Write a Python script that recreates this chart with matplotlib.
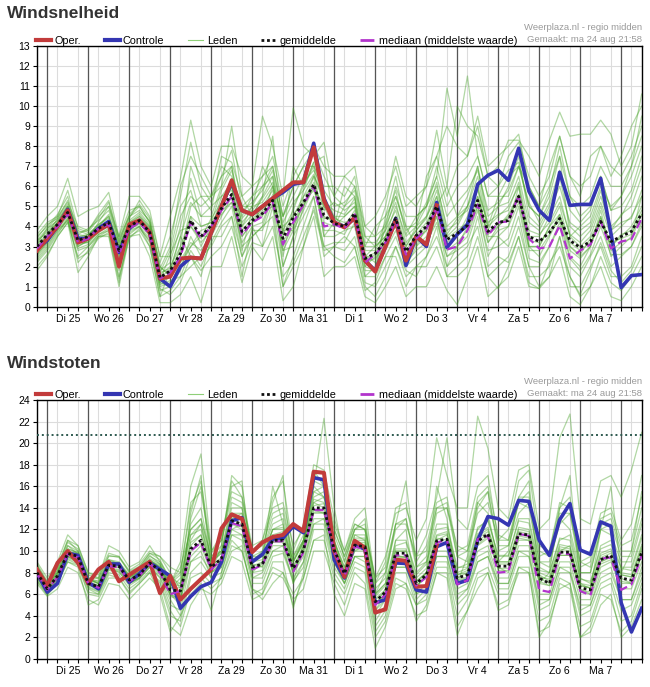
import matplotlib
matplotlib.use("Agg")
import matplotlib.pyplot as plt
import matplotlib.dates as mdates
from matplotlib.lines import Line2D
import numpy as np
import pandas as pd

# 6-hourly steps, Ma 24 aug 18:00 .. Di 8 sep 12:00
times = pd.date_range("2020-08-24 18:00", periods=60, freq="6h")
noons = pd.date_range("2020-08-25 12:00", periods=14, freq="D")
midnights = pd.date_range("2020-08-25 00:00", periods=15, freq="D")
day_labels = ["Di 25", "Wo 26", "Do 27", "Vr 28", "Za 29", "Zo 30", "Ma 31",
              "Di 1", "Wo 2", "Do 3", "Vr 4", "Za 5", "Zo 6", "Ma 7"]

# ---- Windsnelheid ----
speed_oper = [2.8,
              3.4, 4.0, 4.8, 3.2, 3.4, 3.8, 4.1, 2.0, 4.1, 4.3, 3.7, 1.4,
              1.5, 2.4, 2.45, 2.4, 3.7, 5.0, 6.3, 4.8, 4.6, 5.0, 5.4, 5.8,
              6.2, 6.2, 7.95, 5.3, 4.2, 3.95, 4.45, 2.3, 1.75, 3.0, 4.3, 2.3,
              3.5, 3.1, 5.05]
speed_control = [2.9,
                 3.3, 4.0, 4.85, 3.4, 3.4, 3.9, 4.25, 2.7, 3.9, 4.3, 3.7, 1.4,
                 1.0, 2.0, 2.45, 2.4, 3.7, 5.0, 6.2, 4.8, 4.6, 5.0, 5.4, 5.7,
                 6.1, 6.2, 8.15, 5.4, 4.2, 4.0, 4.4, 2.3, 1.8, 3.0, 4.4, 2.05,
                 3.5, 3.0, 5.2, 2.95, 3.6, 4.1, 6.1, 6.55, 6.8, 6.3, 7.9, 5.75,
                 4.8, 4.3, 6.7, 5.05, 5.1, 5.1, 6.4, 3.65, 0.95, 1.55, 1.6]
speed_mean = [3.0,
              3.6, 4.1, 4.7, 3.3, 3.5, 3.9, 4.2, 2.8, 4.0, 4.3, 3.7, 1.45,
              1.8, 2.65, 4.3, 3.5, 4.05, 4.9, 5.6, 3.75, 4.3, 4.65, 5.3, 3.4,
              4.45, 5.2, 6.1, 4.55, 4.15, 4.0, 4.65, 2.4, 2.65, 3.3, 4.4, 2.75,
              3.55, 4.0, 5.0, 3.35, 3.65, 4.05, 5.3, 3.75, 4.2, 4.3, 5.5, 3.5,
              3.25, 3.7, 4.4, 3.3, 2.95, 3.25, 4.25, 3.25, 3.5, 3.75, 4.65]
speed_median = [2.9,
                3.5, 4.0, 4.6, 3.2, 3.4, 3.9, 4.1, 2.6, 3.9, 4.2, 3.6, 1.4,
                1.7, 2.5, 4.2, 3.4, 4.0, 4.8, 5.5, 3.6, 4.2, 4.5, 5.2, 3.1,
                4.2, 5.1, 6.0, 4.0, 4.1, 3.9, 4.6, 2.2, 2.6, 3.2, 4.3, 2.6,
                3.4, 3.9, 4.9, 2.85, 3.0, 3.8, 5.1, 3.55, 4.2, 4.25, 5.55, 3.4,
                2.9, 3.0, 4.05, 2.4, 2.8, 3.1, 4.25, 2.9, 3.25, 3.35, 4.4]
speed_members = [
    [3.5, 4.0, 4.6, 5.5, 3.6, 3.9, 4.3, 4.8, 3.2, 4.5, 5.0, 4.2, 2.2, 3.5, 5.5, 8.2, 6.0,
     5.2, 6.5, 7.8, 5.0, 5.5, 6.0, 7.0, 4.5, 6.0, 7.0, 7.8, 6.5, 5.5, 5.0, 6.0, 3.5,
     3.0, 4.2, 5.8, 3.6, 4.5, 5.0, 6.5, 10.9, 8.5, 11.5, 7.5, 5.5, 6.0, 6.8, 7.2, 5.0,
     4.5, 5.8, 8.0, 5.5, 4.5, 5.0, 6.5, 4.8, 5.5, 7.0, 9.5],
    [2.0, 2.6, 3.5, 4.2, 2.5, 3.0, 3.5, 3.8, 1.5, 3.5, 3.8, 3.0, 0.5, 0.8, 1.5, 2.0, 2.5,
     3.0, 4.0, 4.5, 2.5, 3.5, 4.0, 4.5, 1.0, 2.0, 3.0, 5.0, 3.0, 2.5, 2.2, 3.0, 1.0,
     0.5, 1.5, 3.0, 1.5, 2.0, 2.5, 3.5, 2.0, 2.5, 3.0, 4.0, 1.5, 2.0, 2.5, 4.0, 2.0,
     1.0, 1.5, 3.5, 1.5, 0.5, 1.0, 2.5, 1.2, 0.8, 1.5, 2.5],
    [2.8, 3.4, 4.0, 4.8, 3.0, 3.3, 3.8, 4.0, 2.5, 3.8, 4.2, 3.5, 1.2, 1.5, 2.5, 4.5, 3.0,
     4.0, 5.0, 6.0, 3.5, 4.2, 5.0, 5.8, 3.0, 4.0, 5.0, 6.0, 4.2, 4.0, 4.5, 5.0, 2.0,
     2.5, 3.2, 4.0, 2.5, 3.5, 4.0, 5.5, 3.0, 3.5, 4.5, 6.0, 3.2, 4.0, 4.5, 5.5, 3.0,
     3.0, 4.0, 5.0, 3.0, 2.5, 3.0, 4.5, 3.0, 3.5, 4.0, 5.0],
    [3.2, 3.8, 4.3, 5.0, 3.8, 3.6, 4.0, 4.5, 3.0, 4.2, 4.6, 4.0, 1.8, 2.2, 4.0, 6.4, 4.5,
     4.5, 6.0, 7.0, 4.0, 5.0, 6.0, 6.5, 2.0, 3.5, 5.5, 6.5, 5.5, 4.5, 4.0, 4.5, 1.5,
     2.0, 3.5, 5.0, 3.5, 4.0, 5.0, 6.0, 4.0, 4.5, 5.5, 7.0, 4.5, 5.0, 6.0, 7.5, 4.5,
     4.0, 5.0, 6.5, 4.0, 3.5, 4.0, 5.5, 4.0, 4.5, 5.5, 7.0],
    [1.8, 2.5, 3.5, 4.2, 1.7, 2.5, 3.5, 3.5, 1.0, 3.5, 3.6, 2.5, 0.2, 0.2, 0.6, 1.5, 0.2,
     2.0, 2.0, 3.5, 1.2, 3.0, 2.3, 3.5, 0.3, 1.0, 3.0, 4.5, 1.5, 2.0, 2.0, 2.5, 0.5,
     0.2, 1.0, 2.0, 0.5, 1.0, 1.0, 2.0, 0.8, 0.1, 1.5, 3.0, 0.5, 1.0, 1.5, 3.0, 1.0,
     0.9, 1.5, 2.5, 0.5, 0.1, 1.0, 2.0, 0.5, 0.3, 1.0, 2.0],
    [3.0, 3.6, 4.4, 5.3, 3.5, 3.4, 4.2, 5.0, 3.2, 4.4, 5.3, 4.5, 2.5, 4.5, 6.4, 9.3, 7.0,
     6.0, 8.0, 8.0, 6.5, 6.0, 9.5, 8.0, 5.5, 9.9, 8.0, 7.5, 8.2, 5.5, 6.5, 6.0, 4.0,
     3.5, 5.0, 7.5, 5.5, 5.0, 6.0, 8.8, 6.0, 10.0, 9.0, 8.5, 6.5, 7.0, 8.3, 8.3, 7.5,
     6.5, 8.3, 9.7, 8.5, 8.6, 8.6, 9.3, 8.6, 7.0, 8.0, 10.6],
    [2.6, 3.2, 3.9, 4.6, 3.2, 3.2, 3.7, 4.0, 2.2, 4.0, 4.3, 3.8, 1.0, 1.2, 2.0, 3.0, 3.5,
     3.5, 4.5, 5.5, 2.8, 4.8, 4.5, 6.0, 2.5, 5.0, 6.0, 7.0, 3.5, 4.2, 4.0, 4.5, 2.5,
     3.0, 3.5, 4.5, 2.0, 3.0, 3.5, 4.5, 2.5, 3.0, 3.5, 5.0, 2.5, 3.5, 4.0, 6.0, 3.0,
     2.5, 3.5, 4.5, 2.5, 2.0, 3.0, 4.5, 2.5, 3.0, 3.5, 5.5],
    [3.8, 4.5, 5.0, 6.4, 4.5, 4.8, 5.0, 5.7, 3.5, 5.5, 5.5, 4.8, 2.5, 2.5, 4.5, 5.5, 5.0,
     5.5, 7.0, 6.5, 5.0, 5.0, 7.0, 6.0, 4.5, 5.5, 6.5, 8.0, 5.0, 4.0, 5.0, 5.5, 3.0,
     4.0, 4.5, 5.5, 4.0, 3.0, 4.0, 5.0, 6.0, 4.5, 5.0, 7.0, 4.0, 5.5, 5.5, 7.0, 5.0,
     4.5, 5.5, 7.5, 3.5, 4.0, 4.5, 6.0, 5.0, 5.5, 6.5, 8.0],
    [2.4, 3.0, 3.8, 4.4, 2.8, 3.0, 3.6, 3.8, 1.8, 3.6, 4.0, 3.2, 0.8, 1.0, 1.8, 3.5, 2.5,
     3.8, 5.0, 6.0, 3.0, 3.5, 4.0, 5.5, 2.8, 3.0, 5.0, 6.5, 3.5, 3.5, 3.8, 4.0, 1.5,
     1.5, 2.5, 3.5, 2.0, 2.5, 3.0, 4.5, 2.0, 3.0, 4.0, 5.5, 3.5, 3.5, 3.0, 4.5, 2.0,
     2.0, 3.0, 4.0, 2.0, 1.5, 2.5, 3.5, 2.0, 2.5, 3.0, 4.0],
    [3.3, 3.7, 4.2, 4.9, 3.4, 3.6, 4.1, 4.4, 3.0, 4.1, 4.5, 4.0, 1.6, 2.0, 3.0, 4.5, 4.0,
     4.2, 5.0, 6.0, 4.2, 4.8, 5.5, 6.5, 4.0, 4.5, 5.5, 6.0, 5.0, 4.5, 4.5, 5.0, 3.0,
     3.0, 3.5, 4.5, 3.0, 4.0, 4.5, 5.5, 3.5, 4.0, 5.0, 6.0, 4.0, 4.5, 5.0, 6.0, 3.5,
     3.5, 4.5, 5.5, 3.5, 3.0, 3.5, 5.0, 3.5, 4.0, 4.5, 5.5],
    [2.2, 2.8, 3.6, 4.4, 2.2, 2.8, 3.5, 3.6, 1.2, 3.8, 4.0, 3.0, 0.5, 1.8, 3.5, 2.5, 1.5,
     3.5, 3.5, 4.5, 1.5, 4.0, 3.0, 5.0, 1.0, 2.5, 4.0, 5.5, 2.5, 3.0, 3.5, 3.0, 0.8,
     1.2, 2.5, 2.5, 1.0, 2.0, 2.0, 3.0, 1.5, 1.5, 2.0, 3.5, 1.5, 0.9, 2.0, 3.5, 1.5,
     1.5, 2.0, 3.5, 1.0, 1.0, 2.0, 3.0, 1.5, 1.5, 2.0, 3.5],
    [3.6, 4.2, 4.5, 5.2, 4.0, 3.8, 4.5, 5.0, 3.5, 4.8, 5.0, 4.2, 2.0, 1.5, 2.5, 5.0, 5.5,
     5.5, 6.5, 7.0, 4.5, 5.5, 6.5, 7.0, 4.5, 6.0, 7.0, 7.0, 6.0, 6.0, 5.5, 6.5, 3.5,
     3.5, 4.0, 6.0, 4.5, 4.5, 5.0, 7.0, 5.0, 6.0, 6.5, 7.5, 5.5, 5.5, 6.5, 7.0, 6.0,
     5.0, 6.0, 7.5, 5.5, 5.0, 5.5, 7.0, 6.0, 6.0, 7.0, 8.5],
    [3.0, 3.5, 4.1, 4.7, 3.4, 3.5, 3.9, 4.3, 2.8, 4.0, 4.3, 3.7, 1.4, 1.6, 2.2, 3.0, 3.8,
     4.0, 4.6, 5.2, 3.5, 4.2, 4.7, 5.0, 3.2, 4.2, 5.0, 6.2, 4.5, 4.2, 4.0, 4.8, 2.2,
     2.6, 3.2, 4.3, 2.6, 3.4, 3.8, 5.0, 3.2, 3.6, 4.0, 5.2, 3.7, 4.2, 4.4, 5.4, 3.3,
     3.2, 3.8, 4.3, 3.2, 2.8, 3.2, 4.2, 3.2, 3.4, 3.6, 4.6],
    [2.7, 3.3, 3.9, 4.5, 3.1, 3.2, 3.8, 4.1, 2.6, 3.9, 4.1, 3.6, 1.3, 2.6, 3.8, 4.0, 3.2,
     3.8, 5.5, 5.8, 3.8, 4.4, 4.8, 5.4, 3.6, 4.6, 5.2, 5.8, 4.4, 4.4, 4.2, 4.4, 2.4,
     2.7, 3.4, 4.5, 2.8, 3.6, 4.2, 5.2, 3.4, 3.8, 4.2, 5.5, 3.6, 4.0, 4.6, 5.6, 3.0,
     3.0, 4.0, 4.6, 3.0, 2.6, 3.4, 4.4, 3.0, 3.6, 3.8, 4.8],
    [3.1, 3.9, 4.5, 5.8, 3.9, 3.7, 4.4, 5.2, 3.3, 4.6, 5.1, 4.4, 2.0, 1.5, 3.0, 7.0, 5.5,
     4.8, 7.5, 7.2, 5.5, 4.5, 5.5, 8.5, 3.5, 7.0, 6.0, 7.2, 7.5, 4.0, 6.0, 5.5, 2.0,
     1.8, 4.5, 6.5, 4.0, 4.0, 6.5, 7.5, 5.5, 7.0, 7.5, 9.0, 6.5, 6.0, 7.5, 8.2, 6.5,
     5.5, 6.5, 8.5, 6.5, 6.0, 6.5, 8.0, 7.0, 6.5, 7.5, 9.0],
    [2.3, 2.9, 3.7, 4.3, 2.4, 2.7, 3.4, 3.7, 1.4, 3.4, 3.9, 3.3, 0.9, 0.6, 1.2, 2.5, 1.8,
     2.5, 3.0, 4.0, 2.0, 3.2, 3.0, 4.0, 1.5, 2.2, 3.5, 4.8, 2.8, 3.0, 2.8, 3.5, 1.2,
     1.0, 2.0, 3.0, 1.8, 1.5, 2.5, 4.0, 1.5, 2.0, 2.5, 4.5, 2.0, 2.5, 2.2, 3.5, 1.2,
     0.9, 2.2, 3.0, 1.5, 0.6, 1.8, 3.2, 1.8, 1.2, 1.8, 3.0],
    [2.9, 3.5, 4.2, 5.0, 3.6, 3.5, 4.0, 4.6, 2.9, 4.3, 4.7, 4.1, 1.7, 2.8, 5.0, 5.8, 4.0,
     4.2, 5.8, 6.8, 4.4, 5.0, 5.2, 6.0, 3.8, 3.8, 5.8, 7.2, 4.8, 5.2, 4.8, 5.2, 2.6,
     2.2, 4.0, 5.2, 3.2, 3.8, 4.5, 6.2, 3.8, 4.2, 5.0, 6.5, 3.8, 5.0, 5.2, 6.5, 4.2,
     3.8, 4.8, 6.0, 4.2, 3.8, 4.2, 5.8, 3.8, 4.6, 5.0, 6.5],
    [3.4, 4.1, 4.4, 5.1, 3.7, 3.8, 4.6, 5.3, 3.4, 4.5, 4.8, 4.3, 1.9, 3.0, 6.0, 7.5, 6.5,
     5.5, 6.0, 9.0, 5.5, 6.0, 6.5, 7.5, 5.0, 6.5, 7.5, 8.0, 7.0, 6.5, 6.5, 7.0, 4.0,
     4.5, 5.5, 7.0, 5.0, 5.5, 6.0, 7.5, 9.0, 8.0, 7.5, 9.5, 7.0, 7.5, 8.0, 8.6, 6.0,
     5.0, 7.0, 8.5, 6.5, 5.5, 7.5, 8.0, 6.5, 7.5, 9.0, 10.0],
    [2.5, 3.1, 3.8, 4.3, 2.9, 3.1, 3.6, 3.9, 2.0, 3.7, 4.0, 3.4, 1.1, 1.3, 1.5, 2.8, 2.0,
     3.2, 4.2, 5.0, 2.5, 3.8, 3.8, 5.2, 2.0, 3.5, 4.5, 5.5, 3.0, 3.2, 3.2, 4.2, 1.8,
     1.8, 2.8, 3.8, 2.2, 2.8, 3.2, 4.2, 2.5, 2.8, 3.2, 4.8, 2.8, 3.0, 3.4, 5.0, 2.4,
     2.2, 3.0, 4.2, 2.4, 1.8, 2.6, 4.0, 2.6, 2.6, 3.0, 4.2],
    [3.1, 3.6, 4.2, 4.8, 3.3, 3.4, 4.0, 4.2, 2.9, 4.1, 4.4, 3.9, 1.5, 1.8, 2.8, 4.0, 3.4,
     4.4, 5.2, 6.4, 4.0, 4.6, 5.4, 6.2, 4.2, 5.2, 5.8, 6.6, 5.2, 4.8, 4.6, 5.4, 2.8,
     2.8, 3.8, 4.8, 3.0, 3.8, 4.4, 5.8, 3.6, 4.4, 4.8, 5.8, 4.2, 4.6, 4.8, 6.2, 3.8,
     3.6, 4.2, 5.2, 3.6, 3.2, 3.8, 5.2, 3.8, 4.2, 4.4, 5.8],
    [2.6, 3.2, 4.0, 4.6, 3.0, 3.3, 3.7, 4.2, 2.4, 3.9, 4.2, 3.6, 1.2, 1.0, 2.3, 3.2, 2.8,
     3.6, 4.8, 5.2, 3.2, 4.0, 4.2, 5.6, 2.8, 3.8, 4.8, 6.0, 3.8, 3.8, 3.6, 4.6, 2.2,
     2.4, 3.0, 4.2, 2.4, 3.2, 3.8, 4.8, 2.8, 3.2, 3.8, 5.0, 3.2, 3.8, 4.0, 5.2, 2.8,
     2.8, 3.6, 4.6, 2.8, 2.4, 3.0, 4.8, 2.8, 3.2, 3.4, 4.6],
    [3.3, 3.9, 4.3, 5.0, 3.5, 3.6, 4.1, 4.5, 3.1, 4.2, 4.5, 3.9, 1.7, 1.9, 3.5, 5.2, 4.5,
     5.0, 5.5, 6.2, 4.8, 5.2, 5.8, 6.8, 3.8, 4.8, 6.2, 6.8, 5.8, 5.0, 5.2, 5.8, 3.2,
     3.2, 3.8, 5.5, 3.8, 4.2, 5.2, 6.5, 4.5, 5.2, 5.8, 6.8, 4.8, 5.2, 5.8, 7.0, 5.2,
     4.2, 5.2, 6.8, 4.8, 4.2, 4.8, 6.5, 4.8, 5.0, 5.8, 7.5],
]

# ---- Windstoten ----
gust_oper = [8.3,
             6.8, 8.9, 10.0, 8.9, 7.0, 8.3, 9.0, 7.2, 7.8, 8.4, 9.0, 6.1,
             7.7, 5.5, 6.5, 7.4, 8.3, 12.1, 13.4, 13.0, 9.9, 10.8, 11.3, 11.5,
             12.5, 11.85, 17.35, 17.25, 10.0, 7.6, 10.95, 10.3, 4.3, 4.6, 9.2, 9.1,
             6.7, 6.75, 10.55]
gust_control = [8.0,
                6.2, 7.0, 9.8, 9.6, 7.1, 6.5, 8.8, 8.8, 7.1, 7.9, 8.9, 8.3,
                7.7, 4.7, 5.8, 6.7, 7.1, 9.0, 12.8, 13.1, 9.0, 9.7, 11.1, 11.2,
                12.3, 11.7, 16.8, 16.6, 9.2, 7.5, 10.65, 10.15, 5.2, 5.5, 8.9, 8.85,
                6.4, 6.2, 10.4, 10.8, 7.0, 7.3, 11.0, 13.2, 13.0, 12.4, 14.7, 14.6,
                11.0, 9.6, 12.9, 14.4, 10.1, 9.7, 12.7, 12.3, 5.2, 2.5, 4.7]
gust_mean = [8.0,
             6.5, 7.7, 9.8, 9.5, 7.0, 6.7, 8.7, 8.6, 7.3, 7.8, 8.9, 8.2,
             6.4, 6.3, 10.2, 11.0, 8.5, 9.3, 12.8, 12.5, 8.5, 8.8, 11.0, 11.0,
             8.4, 10.1, 14.0, 14.0, 10.1, 7.9, 10.55, 10.4, 5.3, 6.2, 9.8, 9.8,
             7.0, 7.8, 10.95, 11.1, 7.5, 7.8, 10.9, 11.6, 8.6, 8.6, 11.6, 11.5,
             7.5, 7.0, 9.9, 9.9, 6.6, 6.4, 9.2, 9.6, 7.5, 7.3, 9.9]
gust_median = [7.9,
               6.4, 7.6, 9.7, 9.4, 7.0, 6.6, 8.6, 8.5, 7.2, 7.7, 8.8, 8.0,
               6.0, 6.3, 10.0, 10.8, 8.3, 9.2, 12.6, 12.3, 8.3, 8.7, 10.9, 10.9,
               8.1, 9.9, 13.8, 13.8, 10.0, 7.7, 10.4, 10.2, 5.0, 6.0, 9.6, 9.6,
               6.8, 7.6, 10.8, 11.0, 6.9, 7.3, 11.1, 11.4, 8.0, 8.1, 11.6, 11.4,
               6.4, 6.2, 9.8, 9.7, 6.3, 5.9, 9.3, 9.4, 6.4, 6.9, 9.6]
gust_members = [
    [9.0, 7.5, 9.0, 11.5, 10.5, 8.0, 7.5, 10.5, 10.0, 8.5, 9.0, 10.5, 9.0, 7.0, 9.0, 16.0, 19.0,
     10.0, 11.0, 16.5, 15.0, 10.0, 11.0, 15.0, 16.5, 10.0, 12.5, 18.0, 17.5, 13.0, 10.0, 13.0, 14.0,
     7.0, 9.0, 14.0, 14.5, 9.5, 11.5, 15.0, 20.5, 13.0, 12.0, 16.0, 17.0, 11.0, 12.0, 16.5, 17.5,
     10.5, 10.0, 14.0, 15.0, 9.0, 9.5, 13.5, 14.0, 11.0, 12.5, 17.0],
    [7.0, 5.8, 6.5, 8.5, 8.0, 5.5, 5.0, 7.0, 6.8, 5.5, 6.5, 7.5, 6.5, 3.0, 2.2, 5.0, 6.5,
     6.0, 7.0, 9.5, 9.0, 5.5, 6.0, 8.0, 7.5, 5.5, 6.5, 10.0, 10.0, 7.0, 5.0, 8.0, 7.0,
     2.0, 3.5, 7.0, 6.5, 4.0, 4.5, 8.0, 8.0, 3.0, 4.5, 7.5, 8.0, 5.0, 5.5, 8.0, 8.0,
     2.5, 3.0, 7.0, 6.5, 2.0, 3.0, 6.0, 5.5, 2.5, 3.5, 6.5],
    [8.2, 6.6, 7.8, 10.0, 9.6, 7.2, 6.8, 8.8, 8.7, 7.4, 8.0, 9.2, 8.4, 6.0, 5.5, 11.0, 12.5,
     8.0, 9.0, 13.0, 12.5, 8.8, 8.5, 11.5, 11.0, 8.0, 10.5, 14.5, 14.0, 10.5, 8.0, 10.0, 10.5,
     5.0, 6.5, 10.0, 10.0, 7.0, 8.0, 11.0, 11.5, 7.5, 8.0, 11.0, 11.5, 8.5, 8.0, 11.0, 11.0,
     7.5, 7.0, 10.0, 10.5, 6.5, 6.0, 9.0, 9.5, 7.5, 7.0, 10.0],
    [8.5, 7.0, 8.5, 11.0, 10.0, 7.5, 7.5, 9.5, 9.5, 8.0, 8.5, 9.8, 9.5, 8.0, 6.5, 13.0, 16.0,
     9.5, 10.5, 17.0, 16.0, 9.5, 10.0, 14.5, 17.0, 7.0, 11.0, 16.0, 22.3, 14.0, 9.0, 12.0, 13.0,
     6.0, 8.0, 12.5, 16.5, 8.5, 9.0, 13.5, 14.0, 9.5, 9.0, 14.0, 15.5, 10.0, 10.5, 13.5, 14.5,
     9.0, 8.5, 13.0, 12.0, 8.0, 8.0, 12.0, 11.5, 9.0, 9.0, 12.5],
    [7.5, 6.0, 7.0, 9.0, 8.5, 5.0, 5.5, 7.5, 7.5, 6.0, 7.0, 8.0, 6.0, 2.5, 4.0, 6.0, 7.0,
     4.5, 8.0, 11.0, 10.0, 6.5, 5.5, 7.0, 8.0, 5.0, 7.5, 11.0, 11.5, 6.0, 4.0, 7.0, 6.5,
     1.0, 3.0, 6.5, 7.0, 3.5, 5.0, 8.0, 7.5, 2.2, 4.5, 6.5, 8.0, 4.5, 5.0, 8.5, 8.0,
     2.0, 3.5, 6.5, 7.0, 2.0, 2.5, 5.0, 6.0, 2.0, 3.0, 5.5],
    [8.0, 6.5, 7.5, 9.5, 9.5, 7.5, 7.0, 8.5, 8.5, 7.0, 7.5, 9.0, 8.5, 7.0, 8.5, 12.0, 13.0,
     9.5, 10.0, 13.0, 13.5, 9.0, 10.0, 13.0, 13.5, 9.5, 11.0, 15.5, 16.0, 12.0, 9.5, 12.5, 12.0,
     7.5, 9.5, 13.5, 14.0, 11.0, 13.0, 20.5, 17.0, 14.0, 14.0, 22.5, 19.5, 14.0, 13.0, 17.5, 18.0,
     12.0, 13.0, 20.5, 22.7, 13.0, 12.5, 16.5, 17.0, 15.0, 17.5, 21.0],
    [7.8, 6.2, 7.5, 9.5, 9.0, 6.5, 6.0, 8.5, 8.0, 7.0, 7.5, 8.5, 7.5, 5.0, 4.5, 9.0, 10.0,
     7.5, 8.5, 12.0, 11.5, 7.5, 7.5, 10.0, 10.5, 7.0, 9.0, 13.0, 13.0, 9.0, 7.0, 9.5, 9.5,
     4.5, 5.5, 9.0, 9.0, 6.0, 7.0, 10.0, 10.0, 6.5, 7.0, 10.0, 10.5, 7.5, 7.5, 10.5, 10.5,
     6.0, 6.0, 9.0, 9.0, 5.5, 5.5, 8.5, 9.0, 6.5, 6.5, 9.0],
    [8.6, 7.0, 8.2, 10.5, 10.0, 7.5, 7.2, 9.2, 9.0, 7.8, 8.3, 9.5, 9.0, 7.5, 7.0, 12.5, 14.0,
     9.0, 10.0, 14.0, 14.0, 9.5, 9.5, 12.0, 12.5, 9.0, 11.0, 15.0, 15.5, 11.0, 8.5, 11.5, 11.5,
     6.0, 7.0, 11.0, 11.0, 8.0, 9.0, 12.5, 12.5, 8.5, 8.5, 12.0, 13.0, 9.5, 9.5, 13.0, 13.0,
     8.5, 8.0, 11.0, 11.5, 7.5, 7.0, 10.5, 11.0, 8.5, 8.5, 11.5],
    [7.2, 5.9, 7.0, 9.2, 8.8, 6.2, 6.0, 8.0, 7.8, 6.5, 7.2, 8.2, 7.0, 4.0, 3.5, 7.5, 8.0,
     7.0, 7.5, 10.5, 10.0, 6.5, 6.0, 9.0, 9.0, 4.7, 8.0, 12.0, 12.0, 8.0, 6.5, 9.0, 8.5,
     3.0, 4.5, 8.0, 8.0, 5.0, 6.0, 9.0, 9.0, 5.0, 6.0, 9.0, 9.5, 6.5, 6.5, 9.5, 9.5,
     4.5, 5.0, 8.0, 8.0, 4.0, 4.5, 7.0, 7.5, 4.5, 5.0, 7.5],
    [8.8, 7.2, 8.6, 11.0, 10.5, 8.0, 7.8, 9.8, 9.5, 8.2, 8.8, 10.0, 9.5, 8.5, 8.0, 14.0, 16.5,
     10.0, 11.5, 15.5, 15.0, 10.5, 11.0, 14.0, 14.5, 10.5, 12.0, 16.5, 16.0, 12.5, 10.0, 12.5, 12.0,
     7.5, 8.5, 12.5, 12.5, 9.5, 10.0, 14.0, 14.0, 10.5, 10.0, 13.5, 14.5, 11.0, 11.0, 15.0, 15.0,
     10.0, 9.5, 13.5, 13.5, 9.0, 8.5, 12.5, 13.0, 10.0, 10.0, 14.0],
    [8.1, 6.7, 7.9, 9.9, 9.8, 7.2, 6.5, 8.9, 8.8, 7.6, 8.0, 9.0, 8.6, 6.8, 6.8, 10.5, 11.5,
     8.8, 9.2, 12.5, 12.0, 8.2, 8.8, 11.2, 11.5, 8.5, 10.2, 13.8, 13.5, 10.0, 7.8, 10.8, 10.6,
     5.5, 6.2, 9.6, 9.4, 7.2, 8.0, 11.2, 11.0, 7.8, 8.0, 11.2, 11.8, 8.8, 8.8, 11.8, 11.6,
     7.8, 7.2, 10.2, 10.0, 6.8, 6.6, 9.4, 9.8, 7.8, 7.6, 10.2],
    [7.6, 6.3, 7.4, 9.4, 9.2, 6.8, 6.6, 8.4, 8.3, 7.2, 7.6, 8.7, 8.0, 5.8, 5.5, 9.5, 10.5,
     8.0, 8.8, 12.0, 12.5, 8.0, 8.2, 10.5, 10.5, 8.0, 9.5, 13.5, 13.5, 9.5, 7.5, 10.0, 10.0,
     5.0, 6.0, 9.5, 9.5, 6.8, 7.5, 10.5, 10.8, 7.2, 7.5, 10.5, 11.2, 8.2, 8.2, 11.2, 11.0,
     7.0, 6.8, 9.6, 9.6, 6.2, 6.0, 8.8, 9.2, 7.0, 7.0, 9.6],
    [8.4, 6.9, 8.0, 10.2, 9.8, 7.4, 7.0, 9.0, 8.9, 7.5, 8.1, 9.1, 8.7, 6.5, 7.5, 11.5, 12.0,
     9.0, 9.8, 13.5, 13.0, 9.0, 9.5, 12.0, 12.0, 9.0, 10.8, 14.8, 14.5, 10.8, 8.2, 11.0, 11.0,
     5.8, 6.8, 10.2, 10.2, 7.5, 8.4, 11.5, 11.8, 8.0, 8.4, 11.6, 12.2, 9.0, 9.0, 12.2, 12.0,
     8.0, 7.6, 10.6, 10.4, 7.0, 6.8, 9.8, 10.2, 8.0, 7.8, 10.6],
    [7.9, 6.4, 7.6, 9.7, 9.4, 6.9, 6.4, 8.6, 8.5, 7.2, 7.7, 8.8, 8.1, 6.2, 6.0, 10.0, 10.8,
     8.4, 9.0, 12.6, 12.2, 8.4, 8.6, 10.8, 10.8, 8.2, 9.9, 13.6, 13.6, 9.8, 7.6, 10.2, 10.2,
     5.0, 5.9, 9.4, 9.4, 6.8, 7.6, 10.6, 10.8, 7.3, 7.6, 10.6, 11.4, 8.4, 8.4, 11.4, 11.2,
     7.2, 6.8, 9.6, 9.6, 6.4, 6.2, 9.0, 9.4, 7.2, 7.0, 9.6],
    [8.7, 7.1, 8.4, 10.8, 10.2, 7.8, 7.4, 9.6, 9.4, 8.1, 8.6, 9.8, 9.2, 7.2, 8.0, 14.5, 15.5,
     9.8, 11.0, 15.0, 14.5, 10.0, 10.5, 13.5, 14.0, 9.5, 11.5, 16.0, 15.0, 12.0, 9.5, 12.0, 12.5,
     7.0, 8.0, 12.0, 13.0, 9.0, 10.5, 14.5, 15.0, 10.0, 10.5, 15.0, 16.0, 11.5, 11.0, 14.5, 15.5,
     9.5, 10.0, 14.5, 14.0, 8.5, 9.0, 13.0, 13.5, 10.5, 11.0, 15.0],
    [7.3, 6.0, 7.1, 9.0, 8.7, 6.0, 5.8, 7.8, 7.5, 6.2, 7.0, 8.0, 7.2, 4.5, 3.0, 6.5, 7.5,
     6.5, 7.5, 10.0, 10.5, 6.0, 6.5, 8.5, 8.0, 6.0, 7.5, 11.0, 11.0, 7.5, 6.0, 8.5, 8.0,
     2.5, 4.0, 7.5, 7.0, 5.0, 5.5, 8.5, 8.5, 4.0, 5.5, 8.0, 8.5, 6.0, 6.0, 8.5, 8.5,
     3.5, 4.0, 7.5, 7.0, 3.0, 3.5, 6.5, 7.0, 3.5, 4.0, 7.0],
    [8.3, 6.9, 8.2, 10.5, 9.7, 7.3, 7.2, 9.2, 8.8, 7.8, 8.4, 9.6, 8.8, 6.0, 5.0, 13.5, 17.0,
     8.0, 10.5, 16.0, 16.5, 8.0, 9.0, 16.0, 12.5, 8.0, 10.0, 17.5, 16.0, 11.0, 8.0, 11.5, 11.0,
     4.5, 6.0, 11.0, 12.0, 6.5, 8.0, 16.0, 13.0, 7.0, 9.5, 14.5, 13.5, 9.0, 10.0, 15.0, 16.5,
     7.0, 8.0, 14.0, 17.0, 7.0, 6.5, 12.0, 16.0, 8.0, 10.0, 15.5],
    [8.0, 6.5, 7.8, 9.9, 9.5, 7.1, 6.8, 8.8, 8.6, 7.4, 7.9, 8.9, 8.3, 6.6, 6.6, 10.8, 11.5,
     8.6, 9.4, 13.2, 13.0, 8.6, 9.0, 11.5, 11.8, 8.6, 10.4, 14.2, 14.4, 10.4, 8.0, 10.8, 10.8,
     5.6, 6.4, 10.0, 10.0, 7.2, 8.0, 11.4, 11.6, 7.8, 8.2, 11.4, 12.0, 9.0, 9.0, 12.0, 11.8,
     7.6, 7.4, 10.4, 10.2, 6.8, 6.6, 9.6, 10.0, 7.8, 7.6, 10.4],
    [7.7, 6.1, 7.3, 9.3, 9.0, 6.6, 6.2, 8.2, 8.1, 6.8, 7.4, 8.5, 7.6, 5.5, 4.0, 8.0, 9.0,
     7.5, 8.0, 11.5, 11.0, 7.0, 7.0, 9.5, 9.8, 7.2, 8.5, 12.5, 12.5, 8.5, 7.0, 9.5, 9.0,
     3.5, 5.0, 8.5, 8.5, 5.5, 6.5, 9.5, 9.5, 5.5, 6.5, 9.5, 10.0, 7.0, 7.0, 10.0, 10.0,
     5.0, 5.5, 8.5, 8.5, 4.5, 5.0, 8.0, 8.5, 5.5, 5.5, 8.5],
    [8.2, 6.8, 8.0, 10.2, 9.9, 7.4, 7.0, 9.0, 8.9, 7.6, 8.2, 9.3, 8.8, 7.0, 7.8, 12.0, 13.0,
     9.2, 10.0, 14.5, 14.0, 9.2, 9.8, 12.5, 13.0, 9.2, 11.0, 15.5, 15.0, 11.5, 9.0, 12.0, 12.0,
     6.5, 7.5, 12.5, 13.0, 8.5, 9.5, 14.0, 14.5, 9.5, 10.0, 14.5, 15.5, 10.5, 10.5, 14.5, 14.0,
     9.0, 9.0, 12.5, 13.5, 8.0, 8.0, 12.0, 12.5, 9.5, 9.5, 13.0],
    [7.6, 6.2, 7.4, 9.5, 9.1, 6.7, 6.3, 8.3, 8.2, 7.0, 7.5, 8.6, 7.8, 6.0, 5.5, 9.0, 9.5,
     8.0, 8.5, 11.5, 11.5, 7.5, 8.0, 10.0, 10.0, 7.5, 9.0, 12.5, 13.0, 9.0, 7.0, 9.5, 9.5,
     4.0, 5.5, 8.5, 8.5, 6.0, 6.5, 9.5, 9.5, 6.0, 6.5, 9.0, 9.5, 7.0, 7.0, 10.0, 9.5,
     5.5, 5.5, 8.5, 8.0, 5.0, 5.0, 7.5, 8.0, 5.5, 5.5, 8.0],
    [8.3, 6.8, 8.0, 10.0, 9.7, 7.3, 7.0, 9.0, 8.8, 7.6, 8.1, 9.2, 8.5, 6.8, 7.0, 11.5, 12.5,
     9.0, 9.8, 13.5, 13.5, 9.0, 9.2, 12.0, 12.2, 9.0, 10.8, 14.5, 15.0, 10.8, 8.5, 11.2, 11.2,
     6.0, 7.0, 10.5, 10.8, 7.8, 8.8, 12.0, 12.2, 8.4, 8.8, 12.2, 12.8, 9.6, 9.6, 12.8, 12.6,
     8.2, 8.0, 11.2, 11.0, 7.4, 7.2, 10.2, 10.6, 8.4, 8.2, 11.2],
]
gust_warning = 20.8

RED = "#c23b3b"
BLUE = "#3436b2"
GREEN = "#45a126"
PURPLE = "#b234cc"
FONT = ["Liberation Sans", "DejaVu Sans"]

plt.rcParams["font.family"] = FONT

fig = plt.figure(figsize=(6.5, 6.87), dpi=100)
ax1 = fig.add_axes([0.0569, 0.5536, 0.9303, 0.3795])
ax2 = fig.add_axes([0.0569, 0.0408, 0.9303, 0.3770])


def draw_panel(ax, members, oper, control, mean, median, ymax, ystep):
    ax.set_axisbelow(True)
    for m in members:
        ax.plot(times, m, color=GREEN, lw=0.9, alpha=0.42, zorder=2)
    ax.plot(times, control, color=BLUE, lw=2.6, zorder=4)
    ax.plot(times[:len(oper)], oper, color=RED, lw=2.9, zorder=5)
    ax.plot(times, median, color=PURPLE, lw=1.6, ls=(0, (4, 2)), zorder=5.5)
    ax.plot(times, mean, color="#111111", lw=2.0, ls=(0, (1, 1)), zorder=6)

    for d in midnights:
        ax.axvline(d, color="#555555", lw=0.9, zorder=1.5)

    ax.set_xlim(times[0], times[-1])
    ax.set_ylim(0, ymax)
    ax.set_yticks(np.arange(0, ymax + 1, ystep))
    ax.grid(axis="y", color="#dcdcdc", lw=0.8)
    ax.xaxis.set_minor_locator(mdates.HourLocator(byhour=[0, 6, 12, 18]))
    ax.grid(axis="x", which="minor", color="#dcdcdc", lw=0.8)
    ax.set_xticks(noons)
    ax.set_xticklabels(day_labels)
    ax.tick_params(axis="both", which="both", length=3, width=0.8, color="black",
                   labelsize=7.5, pad=2)
    for s in ax.spines.values():
        s.set_color("black")
        s.set_linewidth(1.0)

    handles = [
        Line2D([], [], color=RED, lw=3),
        Line2D([], [], color=BLUE, lw=3),
        Line2D([], [], color="#8fcf78", lw=0.8),
        Line2D([], [], color="#111111", lw=2.0, ls=(0, (1, 1))),
        Line2D([], [], color=PURPLE, lw=2.0, ls=(0, (5, 2.5))),
    ]
    labels = ["Oper.", "Controle", "Leden", "gemiddelde", "mediaan (middelste waarde)"]
    ax.legend(handles, labels, loc="lower left", bbox_to_anchor=(-0.004, 0.995),
              ncol=5, frameon=False, borderaxespad=0, borderpad=0.1,
              handlelength=1.4, handletextpad=0.3, columnspacing=2.2,
              prop={"size": 7.8})

    ax.text(1.0, 1.07, "Weerplaza.nl - regio midden", transform=ax.transAxes,
            ha="right", va="center", fontsize=6.8, color="#9a9a9a")
    ax.text(1.0, 1.025, "Gemaakt: ma 24 aug 21:58", transform=ax.transAxes,
            ha="right", va="center", fontsize=6.8, color="#9a9a9a")


draw_panel(ax1, speed_members, speed_oper, speed_control, speed_mean, speed_median, 13, 1)
draw_panel(ax2, gust_members, gust_oper, gust_control, gust_mean, gust_median, 24, 2)
ax2.axhline(gust_warning, color="#2e5a50", lw=1.4, ls=(0, (1, 1.5)), zorder=3)

fig.text(7 / 650, 1 - 13 / 687, "Windsnelheid", ha="left", va="center",
         fontsize=12.5, fontweight="bold", color="#333333")
fig.text(7 / 650, 1 - 363 / 687, "Windstoten", ha="left", va="center",
         fontsize=12.5, fontweight="bold", color="#333333")

fig.savefig("out.png", dpi=100)
